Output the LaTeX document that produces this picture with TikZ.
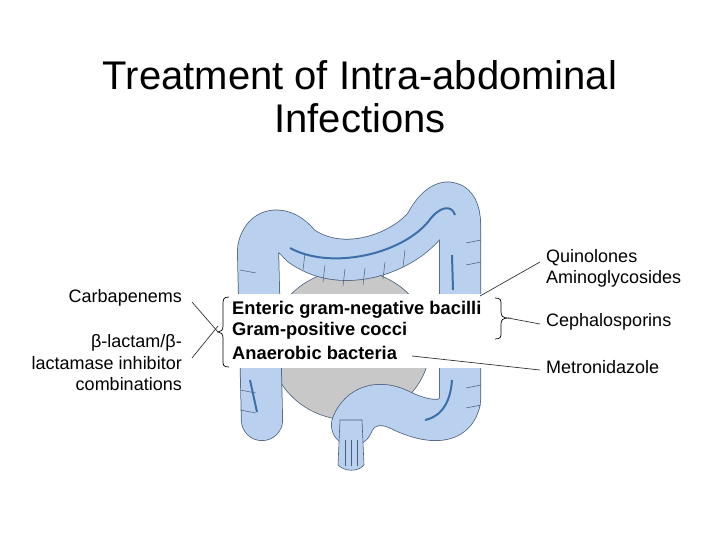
\documentclass[tikz,border=0pt]{standalone}
\usepackage{fontspec}
\setmainfont{Liberation Sans}
\usetikzlibrary{shapes.geometric}
\definecolor{colon}{HTML}{B9D1EE}
\definecolor{colonline}{HTML}{4A5F7A}
\definecolor{stripe}{HTML}{3D6FA8}
\definecolor{gut}{HTML}{C8C8C8}
\begin{document}
\begin{tikzpicture}[x=1pt,y=-1pt,
  lbl/.style={font=\fontsize{18}{21.5}\selectfont,inner sep=0pt},
  bug/.style={font=\bfseries\fontsize{18.3}{21}\selectfont,inner sep=0pt,anchor=west},
  lead/.style={draw=black!80,line width=0.7pt},
  tube/.style={line cap=round,line join=round}]
\useasboundingbox (0,0) rectangle (720,540);
% title
\node[font=\fontsize{40}{43}\selectfont,align=center] (title) at (360,97) {Treatment of Intra-abdominal\\Infections};
% small intestine (gray)
\node[draw=colonline,fill=gut,line width=0.6pt,ellipse,minimum width=160pt,minimum height=150pt,inner sep=0pt] (si) at (350,345) {};
% colon path: outline then fill
\def\colonpath{(262,420) -- (258,250) .. controls (262,225) and (285,225) .. (300,245) .. controls (340,275) and (400,255) .. (425,225) .. controls (440,195) and (460,195) .. (460,225) -- (460,400) .. controls (455,430) and (420,420) .. (400,410) .. controls (380,400) and (360,405) .. (352,425)}
\draw[tube,colonline,line width=42pt] \colonpath;
\draw[tube,colon,line width=40.5pt] \colonpath;
% rectum
\filldraw[draw=colonline,fill=colon,line width=0.6pt] (340,420) -- (338,465) .. controls (345,472) and (358,472) .. (364,465) -- (362,420) -- cycle;
\foreach \xx in {345,351,357} \draw[colonline,line width=0.4pt] (\xx,440) -- (\xx,466);
% haustra marks
\foreach \xx/\yy in {305/250,325/262,345/266,365/265,385/259,405/247} \draw[colonline,line width=0.5pt] (\xx,\yy+3) -- (\xx-2,\yy+20);
\foreach \yy in {270,390,410} \draw[colonline,line width=0.5pt] (240,\yy) -- (256,\yy+3);
\foreach \yy in {240,262,385,405} \draw[colonline,line width=0.5pt] (481,\yy) -- (466,\yy+3);
% stripes
\draw[stripe,line width=2pt] (290,248) .. controls (330,270) and (400,255) .. (428,222) .. controls (440,205) and (452,205) .. (455,215);
\draw[stripe,line width=2pt] (452,255) -- (453,290);
\draw[stripe,line width=2pt] (452,380) .. controls (450,410) and (435,418) .. (425,420);
\draw[stripe,line width=2pt] (250,380) -- (257,412);
% white label panel
\fill[white] (222,294) rectangle (487,368);
\node[bug] (b1) at (232,310) {Enteric gram-negative bacilli};
\node[bug] (b2) at (232,331) {Gram-positive cocci};
\node[bug] (b3) at (232,353) {Anaerobic bacteria};
% left bracket
\draw[line width=0.7pt] (229,297) .. controls (223,297) and (223,300) .. (223,305) -- (223,326) .. controls (223,330) and (221,332) .. (218,332) .. controls (221,332) and (223,334) .. (223,338) -- (223,360) .. controls (223,365) and (223,367) .. (229,367);
% right brace
\coordinate (rb) at (508,318);
\draw[line width=0.7pt] (495,298) .. controls (501,298) and (501,300) .. (501,305) -- (501,312) .. controls (501,316) and (503,318) .. (rb) .. controls (503,318) and (501,320) .. (501,324) -- (501,332) .. controls (501,337) and (501,339) .. (495,339);
% right labels
\node[lbl,anchor=west] (q) at (546,258) {Quinolones};
\node[lbl,anchor=west] (a) at (546,279) {Aminoglycosides};
\node[lbl,anchor=west] (c) at (546,322) {Cephalosporins};
\node[lbl,anchor=west] (m) at (546,367) {Metronidazole};
\coordinate (qa) at (480,296);
\draw[lead] (qa) -- (540,262);
\draw[lead] (rb) -- (540,324);
\coordinate (an) at (412,356);
\draw[lead] (an) -- (540,370);
% left labels
\node[lbl,anchor=east] (cb) at (182,298) {Carbapenems};
\node[lbl,anchor=east,align=right] (bl) at (182,363) {β-lactam/β-\\lactamase inhibitor\\combinations};
\draw[lead] (192,302) -- (218,332);
\draw[lead] (192,358) -- (218,326);
\end{tikzpicture}
\end{document}
